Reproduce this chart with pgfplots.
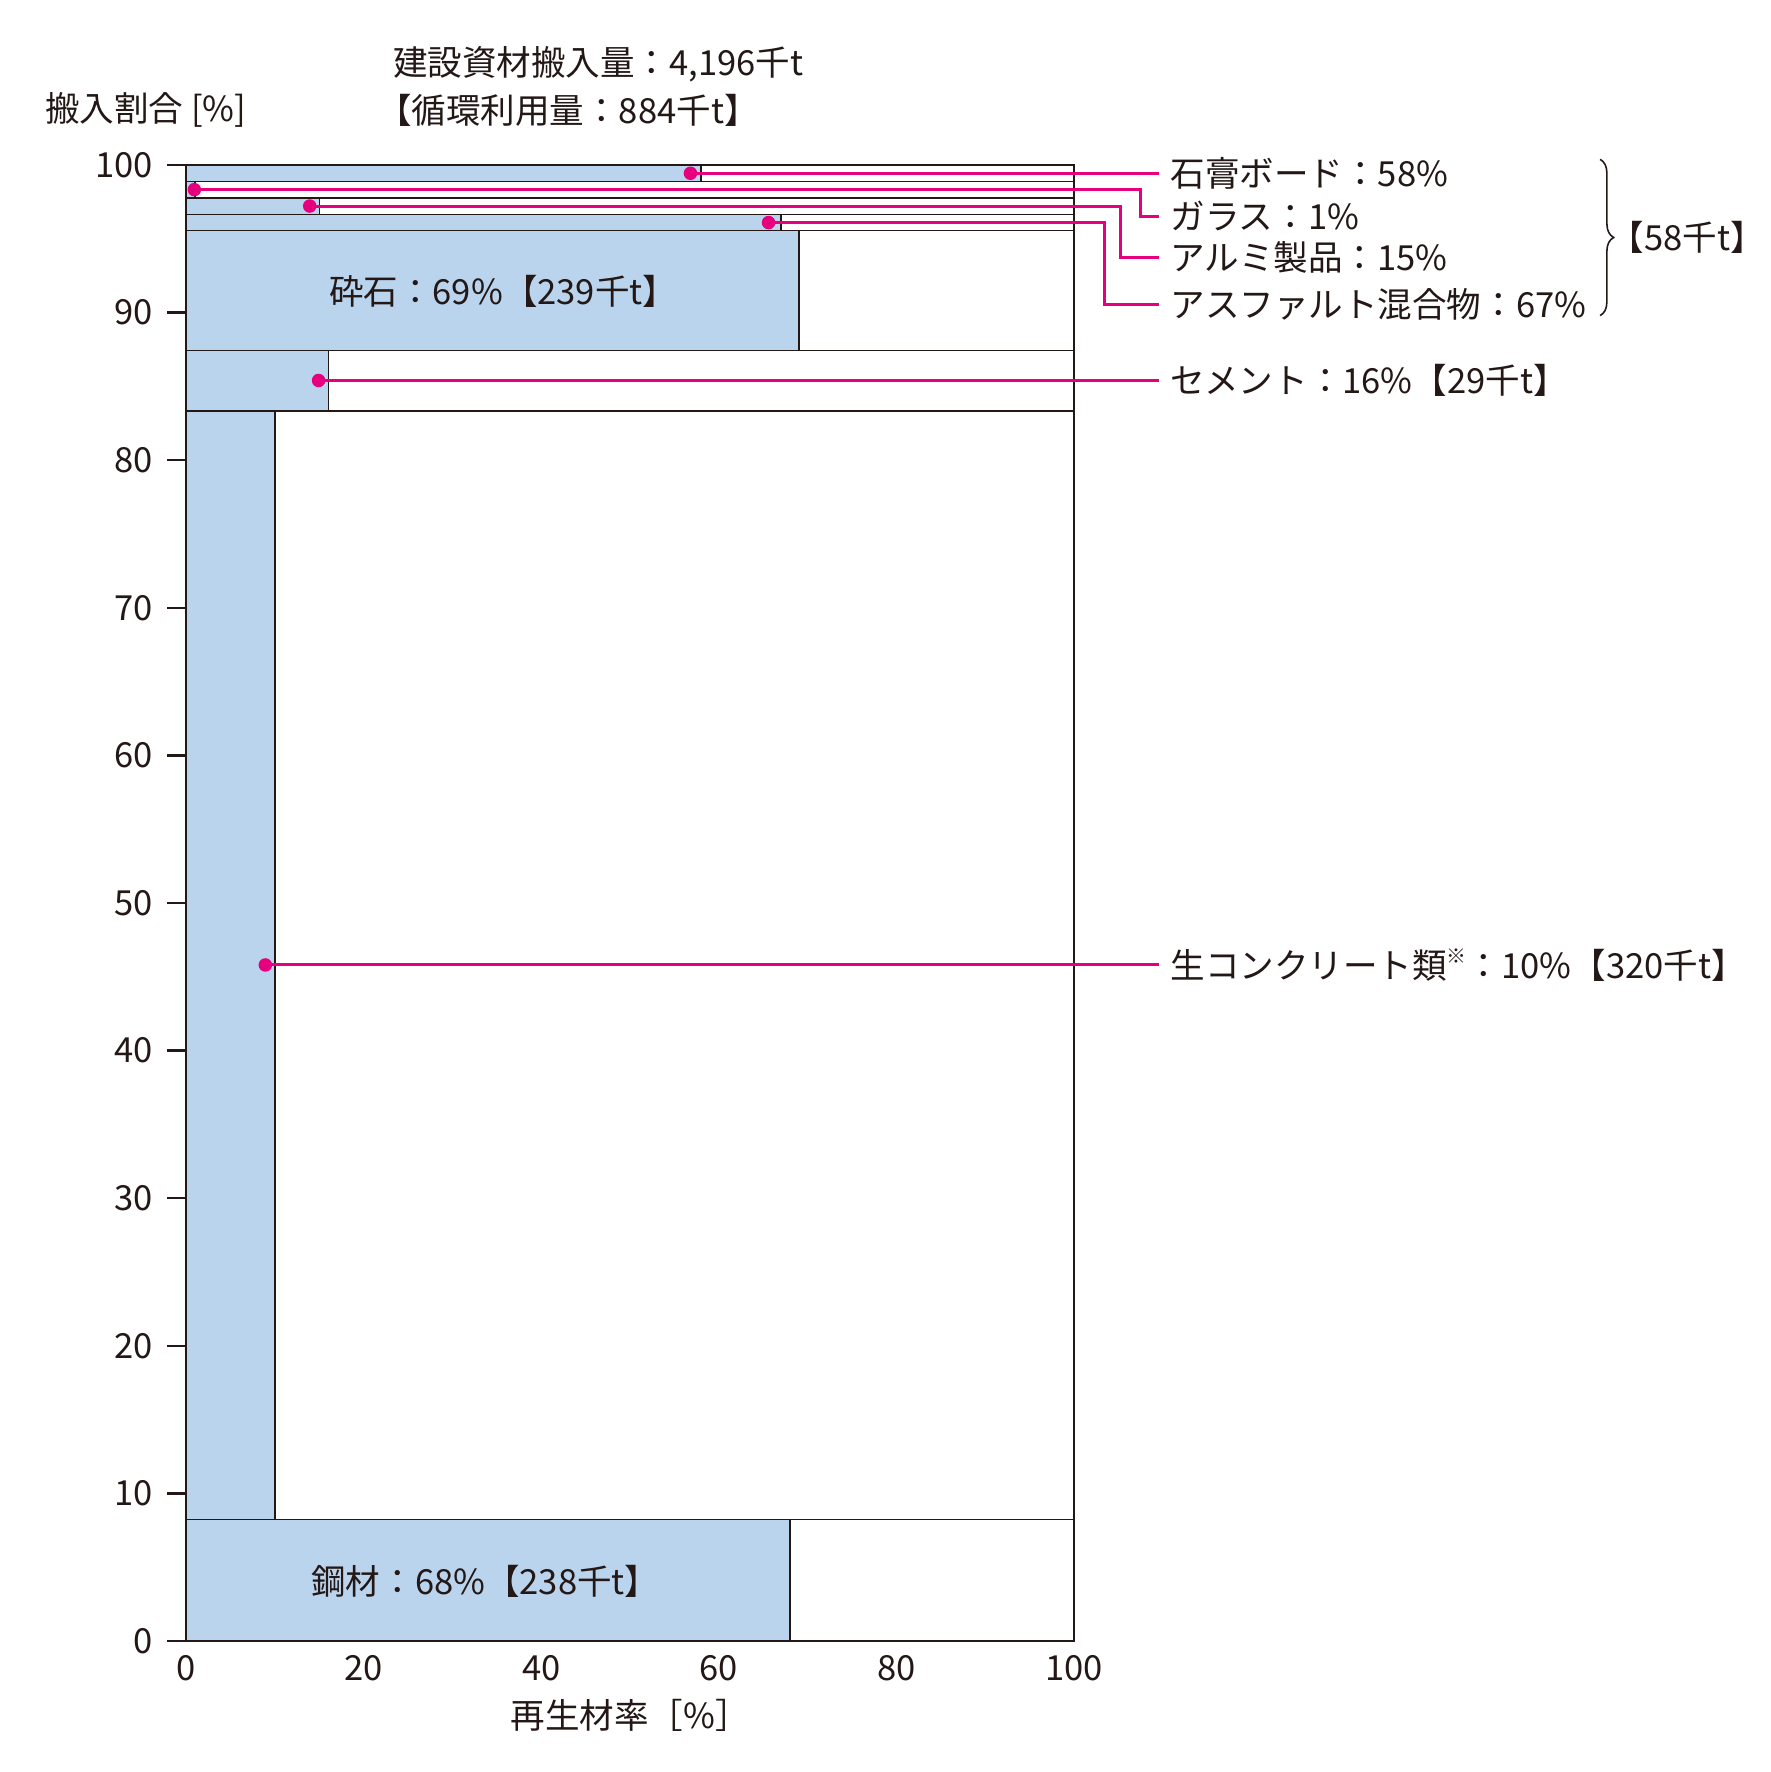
\documentclass[border=0pt]{standalone}
\usepackage{fontspec}
\setmainfont{Noto Sans CJK JP}
\usepackage{pgfplots}
\pgfplotsset{compat=1.18}
\usetikzlibrary{decorations.pathreplacing}

\definecolor{barblue}{RGB}{187,212,238}
\definecolor{leader}{RGB}{230,0,126}
\definecolor{inkc}{RGB}{35,24,21}

\begin{document}
\begin{tikzpicture}[font=\fontsize{8.7}{10}\selectfont, color=inkc]
\begin{axis}[
  width=7.853cm, height=13.06cm, scale only axis,
  xmin=0, xmax=100, ymin=0, ymax=100,
  clip=false,
  axis x line=bottom, axis y line=left,
  axis line style={-, line width=0.6pt, inkc},
  xtick={0,20,...,100}, ytick={0,10,...,100},
  xtick align=inside, ytick align=outside,
  major x tick style={draw=none},
  major y tick style={line width=0.6pt, inkc},
  major tick length=0.17cm,
  /pgf/number format/assume math mode=true,
  tick label style={font=\fontsize{8.7}{10}\selectfont, text=inkc},
  band/.style={draw=inkc, line width=0.4pt, fill=white},
  part/.style={draw=inkc, line width=0.4pt, fill=barblue},
  lead/.style={leader, line width=0.75pt},
]
% bands: full width outline, then recycled share in blue
% steel
\addplot[band] coordinates {(0,0) (100,0) (100,8.22) (0,8.22)} -- cycle;
\addplot[part] coordinates {(0,0) (68,0) (68,8.22) (0,8.22)} -- cycle;
% ready-mixed concrete
\addplot[band] coordinates {(0,8.22) (100,8.22) (100,83.35) (0,83.35)} -- cycle;
\addplot[part] coordinates {(0,8.22) (10,8.22) (10,83.35) (0,83.35)} -- cycle;
% cement
\addplot[band] coordinates {(0,83.35) (100,83.35) (100,87.44) (0,87.44)} -- cycle;
\addplot[part] coordinates {(0,83.35) (16,83.35) (16,87.44) (0,87.44)} -- cycle;
% crushed stone
\addplot[band] coordinates {(0,87.44) (100,87.44) (100,95.55) (0,95.55)} -- cycle;
\addplot[part] coordinates {(0,87.44) (69,87.44) (69,95.55) (0,95.55)} -- cycle;
% asphalt mix
\addplot[band] coordinates {(0,95.55) (100,95.55) (100,96.66) (0,96.66)} -- cycle;
\addplot[part] coordinates {(0,95.55) (67,95.55) (67,96.66) (0,96.66)} -- cycle;
% aluminium
\addplot[band] coordinates {(0,96.66) (100,96.66) (100,97.78) (0,97.78)} -- cycle;
\addplot[part] coordinates {(0,96.66) (15,96.66) (15,97.78) (0,97.78)} -- cycle;
% glass
\addplot[band] coordinates {(0,97.78) (100,97.78) (100,98.89) (0,98.89)} -- cycle;
\addplot[part] coordinates {(0,97.78) (1,97.78) (1,98.89) (0,98.89)} -- cycle;
% gypsum board
\addplot[band] coordinates {(0,98.89) (100,98.89) (100,100) (0,100)} -- cycle;
\addplot[part] coordinates {(0,98.89) (58,98.89) (58,100) (0,100)} -- cycle;

% leader lines
\addplot[lead] coordinates {(56.8,99.44) (109.6,99.44)};
\addplot[lead] coordinates {(0.9,98.33) (107.5,98.33) (107.5,96.52) (109.6,96.52)};
\addplot[lead] coordinates {(13.9,97.22) (105.3,97.22) (105.3,93.73) (109.6,93.73)};
\addplot[lead] coordinates {(65.6,96.1) (103.4,96.1) (103.4,90.58) (109.6,90.58)};
\addplot[lead] coordinates {(14.9,85.4) (109.6,85.4)};
\addplot[lead] coordinates {(8.9,45.8) (109.6,45.8)};
\addplot[only marks, mark=*, mark size=1.5pt, leader] coordinates {
  (56.8,99.44) (0.9,98.33) (13.9,97.22) (65.6,96.1) (14.9,85.4) (8.9,45.8)};

% labels
\node[anchor=west, inner sep=0] at (axis cs:110.8,99.44) {石膏ボード：58\%};
\node[anchor=west, inner sep=0] at (axis cs:110.8,96.52) {ガラス：1\%};
\node[anchor=west, inner sep=0] at (axis cs:110.8,93.73) {アルミ製品：15\%};
\node[anchor=west, inner sep=0] at (axis cs:110.8,90.58) {アスファルト混合物：67\%};
\node[anchor=west, inner sep=0] at (axis cs:110.8,85.4) {セメント：16\%【29千t】};
\node[anchor=west, inner sep=0] at (axis cs:110.8,45.8) {生コンクリート類\raisebox{0.45em}{\fontsize{5}{5}\selectfont ※}：10\%【320千t】};
\draw[inkc, line width=0.4pt, decorate, decoration={brace, amplitude=0.12cm}]
  (axis cs:159.3,100.38) -- (axis cs:159.3,89.8);
\node[anchor=west, inner sep=0] at (axis cs:160.3,95.1) {【58千t】};

\node[anchor=west, inner sep=0] at (axis cs:16.0,91.47) {砕石：69\%【239千t】};
\node[anchor=west, inner sep=0] at (axis cs:14.0,4.06) {鋼材：68\%【238千t】};

\node[anchor=west, inner sep=0] at (axis cs:23.2,106.8) {建設資材搬入量：4,196千t};
\node[anchor=west, inner sep=0] at (axis cs:21.4,103.7) {【循環利用量：884千t】};
\node[anchor=west, inner sep=0] at (axis cs:-16,103.7) {搬入割合 [\%]};
\node[inner sep=0] at (axis cs:50,-5.05) {再生材率［\%］};

\coordinate (bbSW) at (axis cs:-21.0,-8.88);
\coordinate (bbNE) at (axis cs:178.55,111.18);
\end{axis}
\pgfresetboundingbox
\path (bbSW) rectangle (bbNE);
\end{tikzpicture}
\end{document}
